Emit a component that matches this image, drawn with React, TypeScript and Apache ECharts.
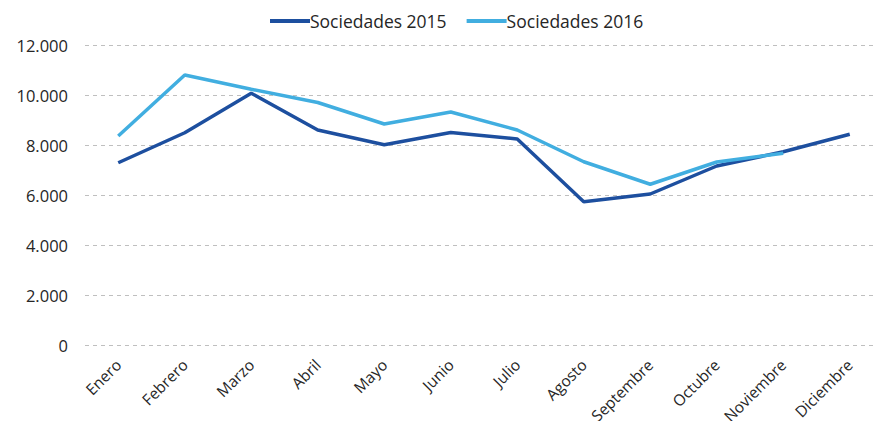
import React, { useEffect, useRef } from "react";
import * as echarts from "echarts";

const months = ["Enero", "Febrero", "Marzo", "Abril", "Mayo", "Junio", "Julio", "Agosto", "Septembre", "Octubre", "Noviembre", "Diciembre"];
const sociedades2015 = [7290, 8490, 10070, 8600, 8010, 8500, 8240, 5730, 6040, 7160, 7730, 8430];
const sociedades2016 = [8360, 10800, 10230, 9700, 8840, 9320, 8600, 7330, 6430, 7320, 7670, null];
const yTicks = { min: 0, max: 12000, interval: 2000 };

export default function App() {
  const ref = useRef<HTMLDivElement>(null);
  useEffect(() => {
    if (!ref.current) return;
    const chart = echarts.init(ref.current, null, { renderer: "svg" });
    const font = "'Open Sans', 'Noto Sans', sans-serif";
    chart.setOption({
      animation: false,
      textStyle: { fontFamily: font },
      legend: {
        top: 7,
        left: 265,
        itemWidth: 40,
        itemHeight: 4,
        itemGap: 20,
        icon: "rect",
        textStyle: { fontSize: 17.5, color: "#262626", fontFamily: font, padding: [0, 0, 0, -5] },
        data: ["Sociedades 2015", "Sociedades 2016"],
      },
      grid: { left: 85, right: 2, top: 45, bottom: 84, containLabel: false },
      xAxis: {
        type: "category",
        data: months,
        boundaryGap: true,
        axisLine: { show: false },
        axisTick: { show: false },
        axisLabel: { rotate: 45, fontSize: 15.5, color: "#262626", margin: 17, fontFamily: font },
      },
      yAxis: {
        type: "value",
        min: yTicks.min,
        max: yTicks.max,
        interval: yTicks.interval,
        axisLine: { show: false },
        axisTick: { show: false },
        axisLabel: {
          fontSize: 16.5,
          color: "#262626",
          margin: 17,
          fontFamily: font,
          formatter: (v: number) => v.toString().replace(/\B(?=(\d{3})+(?!\d))/g, "."),
        },
        splitLine: { lineStyle: { color: "#BFBFBF", type: [4, 4], width: 1 } },
      },
      series: [
        {
          name: "Sociedades 2015",
          type: "line",
          data: sociedades2015,
          symbol: "none",
          lineStyle: { width: 3.5, color: "#1D4F9F" },
          itemStyle: { color: "#1D4F9F" },
        },
        {
          name: "Sociedades 2016",
          type: "line",
          data: sociedades2016,
          symbol: "none",
          lineStyle: { width: 3.5, color: "#41AEE0" },
          itemStyle: { color: "#41AEE0" },
        },
      ],
    });
    return () => chart.dispose();
  }, []);
  return <div ref={ref} style={{ width: 885, height: 429, margin: -8 }} />;
}
